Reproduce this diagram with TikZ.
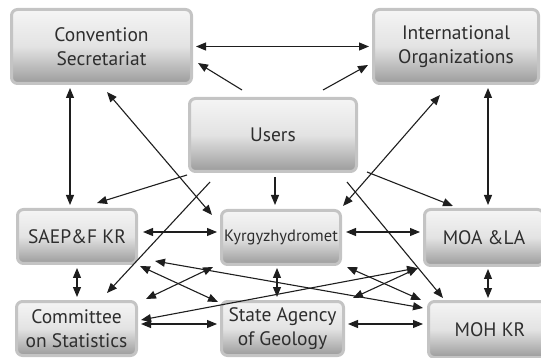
\documentclass[tikz,border=0pt]{standalone}
\usepackage{fontspec}
\setmainfont{PT Sans}
\usepackage{tikz}
\usetikzlibrary{arrows.meta}
\definecolor{boxline}{HTML}{C4C4C4}
\definecolor{boxtext}{HTML}{2E2E2E}
\definecolor{arrowline}{HTML}{1E1E1E}
\begin{document}
\begin{tikzpicture}[x=1pt,y=-1pt,
  box/.style={rectangle,rounded corners=6pt,draw=boxline,line width=3pt,
    top color=gray!8,bottom color=gray!78,middle color=gray!22,
    text=boxtext,align=center,inner sep=0pt,
    font=\fontsize{19.5}{24}\selectfont},
  bigbox/.style={box,minimum height=74pt},
  smallbox/.style={box,minimum height=54pt},
  >={Triangle[length=10pt,width=8pt]},
  link/.style={draw=arrowline,line width=1.1pt}]
\clip (0,0) rectangle (541,358);
% top row
\node[bigbox,minimum width=180pt] (cs) at (101.5,46.5) {Convention\\Secretariat};
\node[bigbox,minimum width=165pt] (io) at (456,46.5) {International\\Organizations};
\node[bigbox,minimum width=167pt,minimum height=73pt] (users) at (273,135) {Users};
% middle row
\node[smallbox,minimum width=119pt] (saep) at (77,236.5) {SAEP\&F KR};
\node[smallbox,minimum width=119pt,font=\fontsize{16.5}{20}\selectfont] (kyr) at (281,237.5) {Kyrgyzhydromet};
\node[smallbox,minimum width=119pt,minimum height=56pt] (moa) at (484,237.5) {MOA \&LA};
% bottom row
\node[smallbox,minimum width=120pt] (com) at (76.5,328.5) {Committee\\on Statistics};
\node[smallbox,minimum width=122pt] (sag) at (282.5,328.5) {State Agency\\of Geology};
\node[smallbox,minimum width=123pt,minimum height=56pt] (moh) at (490,329.5) {MOH KR};
%
% from Users
\draw[link,->] ([shift={(-31,-7)}]users.north) -- ([shift={(5,16.5)}]cs.east);
\draw[link,->] ([shift={(50,-7)}]users.north) -- ([shift={(-4,18.5)}]io.west);
\draw[link,->] ([shift={(-1,2)}]users.south west) -- ([shift={(20,-5)}]saep.north);
\draw[link,->] ([shift={(-63,9)}]users.south) -- ([shift={(30.5,-7)}]com.north);
\draw[link,->] ([shift={(2,4)}]users.south) -- ([shift={(-6,-4)}]kyr.north);
\draw[link,->] ([shift={(9,-1)}]users.south east) -- ([shift={(-31,-2)}]moa.north);
\draw[link,->] ([shift={(-11,9)}]users.south east) -- ([shift={(-47,-2)}]moh.north);
%
% two-way links
\draw[link,<->] ([shift={(3,0)}]cs.east) -- ([shift={(-3,0)}]io.west);
\draw[link,<->] ([shift={(-31.5,3)}]cs.south) -- ([shift={(-7,-3)}]saep.north);
\draw[link,<->] ([shift={(5.5,7)}]cs.south) -- ([shift={(-8,6)}]kyr.north west);
\draw[link,<->] ([shift={(32,3)}]io.south) -- ([shift={(4,-3)}]moa.north);
\draw[link,<->] ([shift={(-16,10)}]io.south) -- ([shift={(1,-3)}]kyr.north east);
\draw[link,<->] ([shift={(5,-4.5)}]saep.east) -- ([shift={(-3,-5.5)}]kyr.west);
\draw[link,<->] ([shift={(4,-5.5)}]kyr.east) -- ([shift={(-3,-5.5)}]moa.west);
\draw[link,<->] ([shift={(0,3)}]saep.south) -- ([shift={(0.5,-3)}]com.north);
\draw[link,<->] ([shift={(-4,2)}]kyr.south) -- ([shift={(-5.5,-3)}]sag.north);
\draw[link,<->] ([shift={(4,2)}]moa.south) -- ([shift={(-2,-2)}]moh.north);
\draw[link,<->] ([shift={(3,-4.5)}]com.east) -- ([shift={(-3,-4.5)}]sag.west);
\draw[link,<->] ([shift={(3,-4.5)}]sag.east) -- ([shift={(-4,-5.5)}]moh.west);
% crossing links between the lower rows
\draw[link,<->] ([shift={(2,1)}]saep.south east) -- ([shift={(-2,2)}]sag.north west);
\draw[link,<->] ([shift={(8,-1)}]com.north east) -- ([shift={(-7,1)}]kyr.south west);
\draw[link,<->] ([shift={(17,-4)}]saep.south east) -- ([shift={(-4,-21.5)}]moh.west);
\draw[link,<->] ([shift={(3,-8.5)}]com.east) -- ([shift={(-6,1)}]moa.south west);
\draw[link,<->] ([shift={(5,1)}]kyr.south east) -- ([shift={(-6,0)}]moh.north west);
\draw[link,<->] ([shift={(8,-2)}]sag.north east) -- ([shift={(-5,1)}]moa.south west);
\end{tikzpicture}
\end{document}
